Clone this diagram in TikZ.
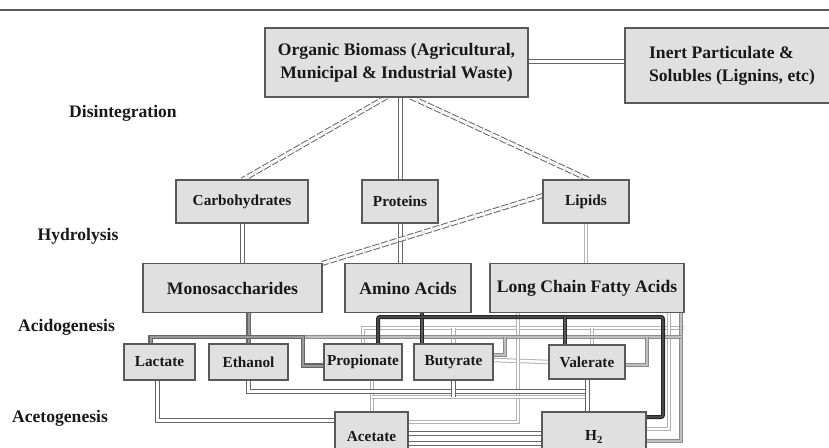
\documentclass[tikz,border=0pt]{standalone}
\usepackage{fontspec}
\setmainfont{Liberation Serif}
\usetikzlibrary{positioning,backgrounds}

\begin{document}
\begin{tikzpicture}
  [x=1pt,y=-1pt,
   stage/.style={font=\fontsize{17.6}{21}\selectfont\bfseries,text=black!90},
   bigbox/.style={rectangle,draw=black!65,line width=1.2pt,fill=black!12,inner xsep=2pt,outer sep=0pt,
     font=\fontsize{17.6}{23}\selectfont\bfseries,text=black!90},
   smallbox/.style={rectangle,draw=black!65,line width=1.2pt,fill=black!12,inner xsep=2pt,outer sep=0pt,
     font=\fontsize{15.3}{18}\selectfont\bfseries,text=black!90},
   link/.style={draw=black!60,double=white,double distance=3pt,line width=1pt},
   dashlink/.style={link,dash pattern=on 7pt off 2pt},
   lbus/.style={draw=black!30,double=white,double distance=2.5pt,line width=1pt},
   glink/.style={draw=black!45,double=black!25,double distance=2pt,line width=1pt},
   mlink/.style={draw=black!60,double=black!40,double distance=2pt,line width=1.2pt},
   dbus/.style={draw=black!85,double=black!65,double distance=1.2pt,line width=1.4pt,rounded corners=2pt}]
  \useasboundingbox (0,0) rectangle (829,447);
  \draw[black!65,line width=1.2pt] (0,10) -- (829,10);
  % stages
  \node[stage] (disint) at (123,113) {Disintegration};
  \node[stage] (hydro) at (78,236) {Hydrolysis};
  \node[stage] (acido) at (66.5,327) {Acidogenesis};
  \node[stage] (aceto) at (60,418) {Acetogenesis};
  % boxes
  \node[bigbox,minimum width=263pt,minimum height=69pt,align=center] (biomass) at (396.5,62.5)
    {Organic Biomass (Agricultural,\\Municipal \& Industrial Waste)};
  \node[bigbox,minimum width=214pt,minimum height=75pt,align=left] (inert) [right=97pt of biomass,yshift=-3pt]
    {Inert Particulate \&\\Solubles (Lignins, etc)};
  \node[smallbox,minimum width=132pt,minimum height=43pt] (carb) at (242,201.5) {Carbohydrates};
  \node[smallbox,minimum width=76pt,minimum height=43pt] (proteins) [right=54pt of carb] {Proteins};
  \node[smallbox,minimum width=86pt,minimum height=43pt] (lipids) [right=105pt of proteins] {Lipids};
  \node[bigbox,minimum width=179pt,minimum height=49pt] (mono) at (232.5,288) {Monosaccharides};
  \node[bigbox,minimum width=126pt,minimum height=49pt] (amino) [right=23pt of mono] {Amino Acids};
  \node[bigbox,minimum width=194pt,minimum height=49pt] (lcfa) [right=19pt of amino] {Long Chain Fatty Acids};
  \node[smallbox,minimum width=71pt,minimum height=36pt] (lactate) at (159.5,362) {Lactate};
  \node[smallbox,minimum width=79pt,minimum height=36pt] (ethanol) [right=14pt of lactate] {Ethanol};
  \node[smallbox,minimum width=78pt,minimum height=36pt] (propionate) [right=36pt of ethanol] {Propionate};
  \node[smallbox,minimum width=79pt,minimum height=36pt] (butyrate) [right=12pt of propionate] {Butyrate};
  \node[smallbox,minimum width=76pt,minimum height=34pt] (valerate) [right=56pt of butyrate] {Valerate};
  \node[smallbox,minimum width=73pt,minimum height=50pt] (acetate) at (371.5,437) {Acetate};
  \node[smallbox,minimum width=104pt,minimum height=50pt] (h2) [right=134pt of acetate] {H\textsubscript{2}};
  % bus levels
  \coordinate (aminobus) at (0,317);
  \coordinate (lightbus) at (0,328);
  \coordinate (monobus) at (0,337);
  \coordinate (etbus) at (0,391);
  \coordinate (butbus) at (0,397);
  \begin{scope}[on background layer]
    % disintegration and hydrolysis
    \draw[link] ([yshift=1.5pt]biomass.east) -- ([yshift=4.5pt]inert.west);
    \draw[dashlink] ([xshift=-10pt]biomass.south) -- (carb.north);
    \draw[link] (proteins.north |- biomass.south) -- (proteins.north);
    \draw[dashlink] ([xshift=14pt]biomass.south) -- ([xshift=4pt]lipids.north);
    \draw[link] (carb.south) -- (carb.south |- mono.north);
    \draw[link] (proteins.south) -- (proteins.south |- amino.north);
    \draw[lbus] (lipids.south) -- (lipids.south |- lcfa.north);
    \draw[dashlink] ([yshift=6pt]lipids.west) -- (mono.north east);
    % acidogenesis
    \draw[lbus] (propionate.north) |- (lcfa.south east |- lightbus);
    \draw[lbus] (butyrate.north |- lightbus) -- (butyrate.north);
    \draw[lbus] ([xshift=5pt]valerate.north |- lightbus) -- ([xshift=5pt]valerate.north);
    \draw[lbus] ([yshift=2pt]butyrate.east) -- (valerate.west);
    \draw[lbus] ([xshift=82pt]lcfa.south) |- ([yshift=8pt]h2.east);
    \draw[lbus] ([xshift=-69pt]lcfa.south) |- ([yshift=15pt]acetate.east);
    \draw[glink] ([xshift=-3pt]lcfa.south east) |- ([yshift=-4pt]h2.east);
    \draw[glink] ([xshift=-21pt]propionate.west |- monobus) -- ([xshift=-3pt]lcfa.south east |- monobus);
    \draw[glink] ([xshift=12pt]butyrate.east |- monobus) |- ([yshift=7pt]butyrate.east);
    \draw[glink] ([xshift=22pt]valerate.east |- monobus) |- ([yshift=-3pt]valerate.east);
    \draw[mlink] (ethanol.north |- mono.south) -- (ethanol.north);
    \draw[mlink] ([xshift=-9pt]lactate.north) |- ([xshift=-21pt]propionate.west |- monobus)
      |- ([yshift=-3.5pt]propionate.west);
    \draw[dbus] ([xshift=-31.5pt]butyrate.north |- amino.south) -- ([xshift=-31.5pt]butyrate.north);
    \draw[dbus] ([xshift=15pt]propionate.north) |- ([xshift=17pt]h2.east |- aminobus)
      -- ([xshift=17pt,yshift=20pt]h2.east) -- ([yshift=20pt]h2.east);
    \draw[dbus] ([xshift=-22pt]valerate.north |- aminobus) -- ([xshift=-22pt]valerate.north);
    % acetogenesis
    \draw[lbus] ([xshift=9pt]propionate.south) -- ([xshift=9pt]propionate.south |- acetate.north);
    \draw[lbus] ([xshift=9pt]propionate.south |- butbus) -- (valerate.south |- butbus);
    \draw[link] ([xshift=-2pt]lactate.south) |- ([yshift=17pt]acetate.west);
    \draw[link] (ethanol.south) |- (valerate.south |- etbus);
    \draw[link] (butyrate.south) -- (butyrate.south |- butbus);
    \draw[link] (valerate.south) -- (valerate.south |- h2.north);
    \draw[link] ([yshift=4pt]acetate.east) -- ([yshift=4pt]h2.west);
    \draw[link] ([yshift=-6pt]acetate.east) -- ([yshift=-6pt]h2.west);
  \end{scope}
\end{tikzpicture}
\end{document}
